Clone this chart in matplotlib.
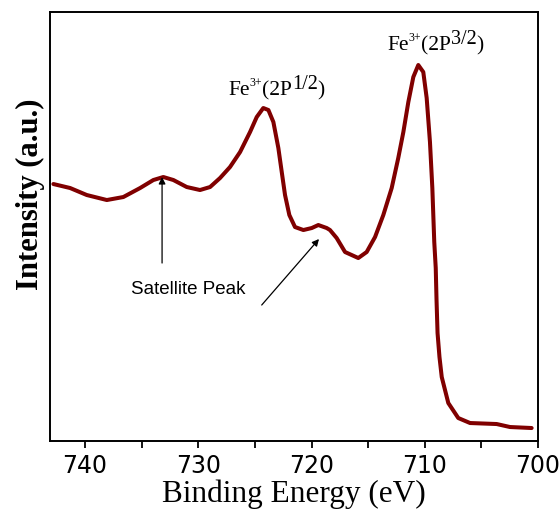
import numpy as np
import matplotlib
matplotlib.use("Agg")
import matplotlib.pyplot as plt

# Fe 2p XPS spectrum
energy = [742.80, 741.32, 739.85, 738.08, 736.62, 735.14, 733.97, 733.09, 732.20, 731.02,
          729.85, 728.96, 728.08, 727.20, 726.31, 725.43, 724.84, 724.26, 723.81, 723.37,
          722.93, 722.63, 722.34, 721.96, 721.46, 720.72, 719.98, 719.40, 718.66, 718.37,
          717.78, 717.04, 715.87, 715.13, 714.39, 713.66, 712.92, 712.34, 711.89, 711.45,
          711.01, 710.57, 710.13, 709.83, 709.54, 709.33, 709.16, 709.03, 708.96, 708.87,
          708.70, 708.50, 707.92, 707.04, 706.00, 703.65, 702.47, 700.56]
intensity = [257, 253, 246, 241, 244, 253, 261, 264, 261, 254,
             251, 254, 263, 274, 289, 309, 324, 333, 331, 319,
             293, 269, 246, 226, 214, 211, 213, 216, 213, 211,
             203, 189, 183, 189, 204, 226, 253, 283, 309, 339,
             364, 376, 369, 343, 299, 253, 199, 173, 141, 108,
             84, 64, 38, 23, 18, 17, 14, 13]

xticks = [740, 730, 720, 710, 700]
minor_xticks = [735, 725, 715, 705]

fig = plt.figure(figsize=(5.59, 5.16), dpi=100)
ax = fig.add_axes([0.0894, 0.1453, 0.873, 0.8314])

ax.plot(energy, intensity, color='#800000', lw=2.9, solid_capstyle='round',
        solid_joinstyle='round')

ax.set_xlim(743.1, 700)
ax.set_ylim(0, 429)
ax.set_yticks([])
ax.set_xticks(xticks)
ax.set_xticks(minor_xticks, minor=True)
ax.tick_params(axis='x', which='both', direction='out', length=5, width=1.3, pad=4.5)
ax.set_xticklabels([str(t) for t in xticks], family='Liberation Sans Narrow', fontsize=17)
for s in ax.spines.values():
    s.set_linewidth(1.4)

ax.set_xlabel('Binding Energy (eV)', family='Liberation Serif', fontsize=22.5, labelpad=1)
ax.set_ylabel('Intensity (a.u.)', family='Liberation Serif', fontsize=22,
              fontweight='bold')
ax.yaxis.set_label_coords(-0.01, 0.575)


def place_label(x_px, base_px, parts):
    # parts: (text, size, raise in px); drawn left to right in figure pixels
    renderer = fig.canvas.get_renderer()
    x = x_px
    for s, size, dy in parts:
        t = fig.text(x, 516 - base_px + dy, s, transform=None, family='Liberation Serif',
                     fontsize=size, ha='left', va='baseline')
        x += t.get_window_extent(renderer).width


place_label(387, 50, [('Fe', 15.5, 0), ('3+', 8.5, 9), ('(2P', 15.5, 0), ('3/2', 14.5, 6), (')', 15.5, 0)])
place_label(228, 95, [('Fe', 15.5, 0), ('3+', 8.5, 9), ('(2P', 15.5, 0), ('1/2', 14.5, 6), (')', 15.5, 0)])

ax.text(730.9, 152, 'Satellite Peak', family='Liberation Sans', fontsize=13.5,
        ha='center', va='center')
ax.annotate('', xy=(733.2, 264), xytext=(733.2, 178),
            arrowprops=dict(arrowstyle='-|>', color='black', lw=0.9,
                            mutation_scale=10, shrinkA=0, shrinkB=0))
ax.annotate('', xy=(719.34, 202), xytext=(724.4, 136),
            arrowprops=dict(arrowstyle='-|>', color='black', lw=0.9,
                            mutation_scale=10, shrinkA=0, shrinkB=0))

fig.savefig('out.png', dpi=100)
